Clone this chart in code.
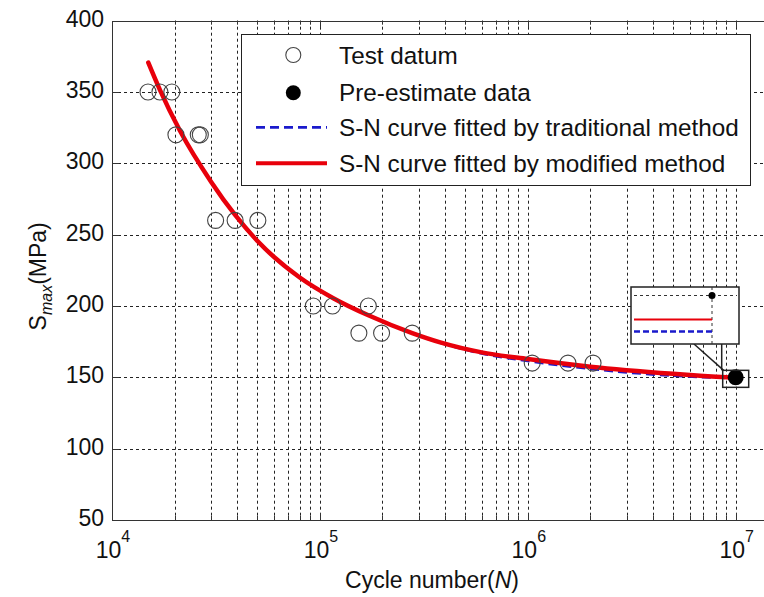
<!DOCTYPE html>
<html>
<head>
<meta charset="utf-8">
<script src="https://cdn.jsdelivr.net/npm/d3@7"></script>
<style>
  body { margin: 0; background: #fff; }
  svg { display: block; font-family: "Liberation Sans", Arial, sans-serif; }
</style>
</head>
<body>
<svg id="chart" width="764" height="597"></svg>
<script>
const { select, scaleLog, scaleLinear, line, curveMonotoneX, range } = d3;

// tick values
const xExponents = [4, 5, 6, 7];
const yTicks = [50, 100, 150, 200, 250, 300, 350, 400];

// test data (open circles)
const testN = [1.49e4, 1.70e4, 1.94e4, 2.03e4, 2.60e4, 2.66e4, 3.15e4, 3.91e4, 5.03e4,
               9.29e4, 1.15e5, 1.71e5, 1.54e5, 1.98e5, 2.78e5, 1.05e6, 1.56e6, 2.06e6];
const testS = [350, 350, 350, 320, 320, 320, 260, 260, 260,
               200, 200, 200, 181, 181, 181, 160, 160, 160];

// pre-estimate data (filled)
const preN = [1e7];
const preS = [150];

// S-N curve, modified method (red)
const modN = [1.495e4, 1.70e4, 2.12e4, 3.0e4, 3.9e4, 5.05e4, 8.0e4, 1.16e5, 1.71e5,
              2.78e5, 3.79e5, 6e5, 1e6, 2e6, 5e6, 7e6, 9e6, 1e7];
const modS = [370.6, 351.5, 323, 287, 264, 245, 220, 205.5, 193.5,
              181, 174.5, 167.5, 162.8, 157.5, 152.5, 151, 150.1, 149.7];

// S-N curve, traditional method (blue dashed)
const tradN = [1.495e4, 1.70e4, 2.12e4, 3.0e4, 3.9e4, 5.05e4, 8.0e4, 1.16e5, 1.71e5,
               2.78e5, 3.79e5, 6e5, 1e6, 2e6, 5e6, 7e6, 9e6, 1e7];
const tradS = [370.6, 351.5, 323, 287, 264, 245, 220, 205.5, 193.5,
               181, 174.3, 166.8, 161.5, 156, 151.2, 150.2, 149.7, 149.55];

const legendLabels = ['Test datum', 'Pre-estimate data',
  'S-N curve fitted by traditional method', 'S-N curve fitted by modified method'];

const svg = select('#chart');
const width = +svg.attr('width');
const height = +svg.attr('height');

const plot = { left: 112, top: 20.7, right: 772, bottom: 520 };
const decade = 207.9;

const x = scaleLog()
  .domain([1e4, Math.pow(10, 4 + (plot.right - plot.left) / decade)])
  .range([plot.left, plot.right]);
const y = scaleLinear().domain([50, 400]).range([plot.bottom, plot.top]);

svg.append('rect').attr('width', width).attr('height', height).attr('fill', '#fff');

// grid
const minorN = [];
[4, 5, 6].forEach(e => range(1, 10).forEach(m => minorN.push(m * Math.pow(10, e))));
minorN.push(1e7);

const grid = svg.append('g')
  .attr('stroke', '#222')
  .attr('stroke-width', 1)
  .attr('stroke-dasharray', '3,3');

grid.selectAll('line.vx')
  .data(minorN.filter(n => n > 1e4))
  .join('line')
  .attr('class', 'vx')
  .attr('x1', d => Math.round(x(d)) + 0.5)
  .attr('x2', d => Math.round(x(d)) + 0.5)
  .attr('y1', plot.top)
  .attr('y2', plot.bottom);

grid.selectAll('line.hy')
  .data(yTicks.filter(v => v > 50 && v < 400))
  .join('line')
  .attr('class', 'hy')
  .attr('x1', plot.left)
  .attr('x2', plot.right)
  .attr('y1', d => Math.round(y(d)) + 0.5)
  .attr('y2', d => Math.round(y(d)) + 0.5);

// axis box and ticks
const axes = svg.append('g').attr('stroke', '#333').attr('stroke-width', 1).attr('fill', 'none');
axes.append('rect')
  .attr('x', plot.left + 0.5)
  .attr('y', Math.round(plot.top) + 0.5)
  .attr('width', plot.right - plot.left)
  .attr('height', plot.bottom - Math.round(plot.top));

axes.selectAll('line.tk')
  .data(minorN.filter(n => n > 1e4))
  .join('line')
  .attr('class', 'tk')
  .attr('x1', d => Math.round(x(d)) + 0.5)
  .attr('x2', d => Math.round(x(d)) + 0.5)
  .attr('y1', plot.bottom)
  .attr('y2', d => plot.bottom - (Number.isInteger(Math.log10(d)) ? 7 : 4));
axes.selectAll('line.tt')
  .data(minorN.filter(n => n > 1e4))
  .join('line')
  .attr('class', 'tt')
  .attr('x1', d => Math.round(x(d)) + 0.5)
  .attr('x2', d => Math.round(x(d)) + 0.5)
  .attr('y1', plot.top)
  .attr('y2', d => plot.top + (Number.isInteger(Math.log10(d)) ? 7 : 4));
axes.selectAll('line.ty')
  .data(yTicks)
  .join('line')
  .attr('class', 'ty')
  .attr('x1', plot.left)
  .attr('x2', plot.left + 7)
  .attr('y1', d => Math.round(y(d)) + 0.5)
  .attr('y2', d => Math.round(y(d)) + 0.5);

// y tick labels
svg.append('g')
  .selectAll('text')
  .data(yTicks)
  .join('text')
  .attr('x', plot.left - 8)
  .attr('y', d => y(d) + 6)
  .attr('text-anchor', 'end')
  .attr('font-size', 23)
  .attr('fill', '#111')
  .text(d => d);

// x tick labels 10^n
const xl = svg.append('g')
  .selectAll('text')
  .data(xExponents)
  .join('text')
  .attr('x', d => x(Math.pow(10, d)) + 1)
  .attr('y', 558)
  .attr('text-anchor', 'middle')
  .attr('font-size', 23)
  .attr('fill', '#111');
xl.append('tspan').text('10');
xl.append('tspan').attr('dy', -16).attr('font-size', 16).text(d => d);

// axis titles
const xt = svg.append('text')
  .attr('x', 432)
  .attr('y', 588)
  .attr('text-anchor', 'middle')
  .attr('font-size', 23)
  .attr('fill', '#111');
xt.append('tspan').text('Cycle number(');
xt.append('tspan').attr('font-style', 'italic').text('N');
xt.append('tspan').text(')');

const yt = svg.append('text')
  .attr('transform', `translate(46, ${(plot.top + plot.bottom) / 2 + 6}) rotate(-90)`)
  .attr('text-anchor', 'middle')
  .attr('font-size', 23)
  .attr('fill', '#111');
yt.append('tspan').text('S');
yt.append('tspan').attr('dy', 6).attr('font-size', 16).attr('font-style', 'italic').text('max');
yt.append('tspan').attr('dy', -6).text('(MPa)');

// curves
const curve = line()
  .x(d => x(d[0]))
  .y(d => y(d[1]))
  .curve(curveMonotoneX);

svg.append('path')
  .datum(tradN.map((n, i) => [n, tradS[i]]))
  .attr('d', curve)
  .attr('fill', 'none')
  .attr('stroke', '#1a1acc')
  .attr('stroke-width', 2.8)
  .attr('stroke-dasharray', '9,5');

svg.append('path')
  .datum(modN.map((n, i) => [n, modS[i]]))
  .attr('d', curve)
  .attr('fill', 'none')
  .attr('stroke', '#e8000b')
  .attr('stroke-width', 4.5)
  .attr('stroke-linecap', 'round');

// test data markers
svg.append('g')
  .selectAll('circle')
  .data(testN.map((n, i) => [n, testS[i]]))
  .join('circle')
  .attr('cx', d => x(d[0]))
  .attr('cy', d => y(d[1]))
  .attr('r', 8)
  .attr('fill', 'none')
  .attr('stroke', '#444')
  .attr('stroke-width', 1.1);

// pre-estimate marker
svg.append('g')
  .selectAll('circle')
  .data(preN.map((n, i) => [n, preS[i]]))
  .join('circle')
  .attr('cx', d => x(d[0]))
  .attr('cy', d => y(d[1]))
  .attr('r', 8)
  .attr('fill', '#000');

// zoom box around the pre-estimate point
const px = x(preN[0]);
const py = y(preS[0]);
const zoom = svg.append('g').attr('stroke', '#222').attr('stroke-width', 1.5).attr('fill', 'none');
zoom.append('rect')
  .attr('x', px - 13).attr('y', py - 7)
  .attr('width', 26).attr('height', 17);
zoom.append('line')
  .attr('x1', px - 14).attr('x2', px - 14)
  .attr('y1', 344).attr('y2', py - 7);
zoom.append('line')
  .attr('x1', 694).attr('x2', px - 12)
  .attr('y1', 344).attr('y2', py - 7);

// inset (magnified view of the curve ends at N = 1e7)
const inset = { left: 631, top: 287, right: 739, bottom: 344 };
zoom.append('rect')
  .attr('x', inset.left).attr('y', inset.top)
  .attr('width', inset.right - inset.left)
  .attr('height', inset.bottom - inset.top)
  .attr('fill', '#fff');

const ix = scaleLog().domain([9e6, 1e7]).range([634, 712]);
const iy = scaleLinear().domain([150, modS[modS.length - 1]]).range([295.5, 319.5]);

const ig = svg.append('g');
ig.append('line')
  .attr('x1', 634).attr('x2', 737)
  .attr('y1', iy(150)).attr('y2', iy(150))
  .attr('stroke', '#333').attr('stroke-dasharray', '3,3');
ig.append('line')
  .attr('x1', ix(1e7)).attr('x2', ix(1e7))
  .attr('y1', inset.top).attr('y2', inset.bottom)
  .attr('stroke', '#333').attr('stroke-dasharray', '3,3');

const endMod = modS[modS.length - 1];
const endTrad = tradS[tradS.length - 1];
ig.append('line')
  .attr('x1', ix(9e6)).attr('x2', ix(1e7))
  .attr('y1', iy(endMod)).attr('y2', iy(endMod))
  .attr('stroke', '#e8000b')
  .attr('stroke-width', 2);
ig.append('line')
  .attr('x1', ix(9e6)).attr('x2', ix(1e7))
  .attr('y1', iy(endTrad)).attr('y2', iy(endTrad))
  .attr('stroke', '#1a1acc')
  .attr('stroke-width', 2.5)
  .attr('stroke-dasharray', '6,3');
ig.append('circle')
  .attr('cx', ix(preN[0])).attr('cy', iy(preS[0]))
  .attr('r', 3.5).attr('fill', '#000');

// legend
const lg = svg.append('g').attr('transform', 'translate(241,34)');
lg.append('rect')
  .attr('x', 0.5).attr('y', 0.5)
  .attr('width', 509).attr('height', 151)
  .attr('fill', '#fff')
  .attr('stroke', '#222');

const rowY = [21, 58.7, 93.3, 129.3];
lg.append('circle').attr('cx', 52.3).attr('cy', rowY[0]).attr('r', 7.5)
  .attr('fill', 'none').attr('stroke', '#444').attr('stroke-width', 1.1);
lg.append('circle').attr('cx', 52.3).attr('cy', rowY[1]).attr('r', 7.5)
  .attr('fill', '#000');
lg.append('line').attr('x1', 15).attr('x2', 86).attr('y1', rowY[2]).attr('y2', rowY[2])
  .attr('stroke', '#1a1acc').attr('stroke-width', 2.8).attr('stroke-dasharray', '9,5');
lg.append('line').attr('x1', 15).attr('x2', 86).attr('y1', rowY[3]).attr('y2', rowY[3])
  .attr('stroke', '#e8000b').attr('stroke-width', 4);

lg.selectAll('text')
  .data(legendLabels)
  .join('text')
  .attr('x', 98)
  .attr('y', (d, i) => rowY[i] + 8.5)
  .attr('font-size', 24.3)
  .attr('fill', '#111')
  .text(d => d);
</script>
</body>
</html>
